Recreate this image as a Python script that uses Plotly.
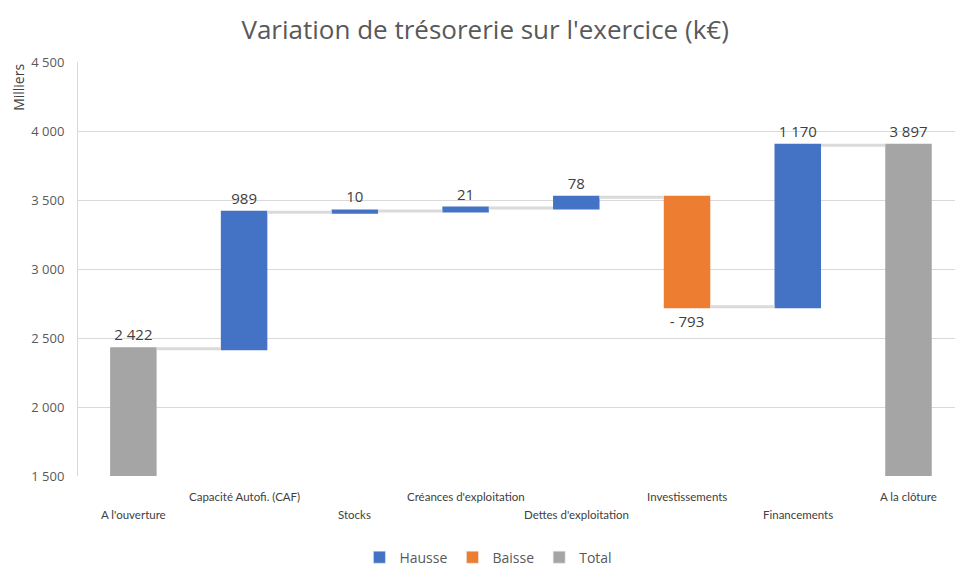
import plotly.graph_objects as go

categories = ["A l'ouverture", "Capacité Autofi. (CAF)", "Stocks", "Créances d'exploitation",
              "Dettes d'exploitation", "Investissements", "Financements", "A la clôture"]
values = [2422, 989, 10, 21, 78, -793, 1170, 3897]
measures = ["absolute", "relative", "relative", "relative", "relative", "relative", "relative", "total"]
legend_names = ["Hausse", "Baisse", "Total"]
y_ticks = [1500, 2000, 2500, 3000, 3500, 4000, 4500]

BLUE = "#4472C4"
ORANGE = "#ED7D31"
GRAY = "#A5A5A5"


def fmt(v):
    s = f"{abs(v):,}".replace(",", " ")
    return ("- " + s) if v < 0 else s


texts = [fmt(v) for v in values]
x_idx = list(range(len(categories)))

fig = go.Figure()
fig.add_trace(go.Waterfall(
    x=x_idx, y=values, measure=measures, text=texts,
    textposition="outside", textfont=dict(family="Open Sans", size=15, color="#404040"),
    increasing=dict(marker=dict(color=BLUE)),
    decreasing=dict(marker=dict(color=ORANGE)),
    totals=dict(marker=dict(color=GRAY)),
    connector=dict(line=dict(color="#dadada", width=3), mode="between"),
    width=[0.42] * len(values),
    showlegend=False, cliponaxis=False,
))

for name, col in zip(legend_names, [BLUE, ORANGE, GRAY]):
    fig.add_trace(go.Bar(x=[None], y=[None], name=name, marker_color=col, showlegend=True))

# staggered category labels
for i, c in enumerate(categories):
    fig.add_annotation(x=i, y=0, xref="x", yref="paper", text=c, showarrow=False,
                       yanchor="top", yshift=-12 if i % 2 == 1 else -30,
                       font=dict(family="Lato", size=11.5, color="#404040"))

fig.add_annotation(x=-0.068, y=1.0, xref="paper", yref="paper", text="Milliers", textangle=-90,
                   showarrow=False, xanchor="center", yanchor="top",
                   font=dict(family="Open Sans", size=14, color="#404040"))

fig.update_layout(
    width=955, height=566,
    margin=dict(l=78, r=0, t=62, b=90, autoexpand=False),
    paper_bgcolor="white", plot_bgcolor="white",
    separators=", ",
    title=dict(text="Variation de trésorerie sur l'exercice (k€)", x=0.508, xanchor="center",
               y=0.947, yanchor="middle",
               font=dict(family="Open Sans", size=26, color="#595959")),
    xaxis=dict(range=[-0.5, 7.42], showticklabels=False, showgrid=False, zeroline=False,
               showline=False, ticks=""),
    yaxis=dict(range=[1500, 4500], tickvals=y_ticks, tickformat=",d",
               showgrid=True, gridcolor="#d9d9d9", gridwidth=1, zeroline=False,
               showline=True, linecolor="#d9d9d9", linewidth=1,
               tickfont=dict(family="Open Sans", size=13, color="#595959"),
               ticks="", ticklabelstandoff=10),
    legend=dict(orientation="h", x=0.468, xanchor="center", y=-0.197, yanchor="middle",
                font=dict(family="Open Sans", size=14, color="#595959"),
                itemwidth=30, traceorder="normal"),
)

fig.write_html("out.html", post_script="document.body.style.margin='0';",
               config={"displayModeBar": False})
